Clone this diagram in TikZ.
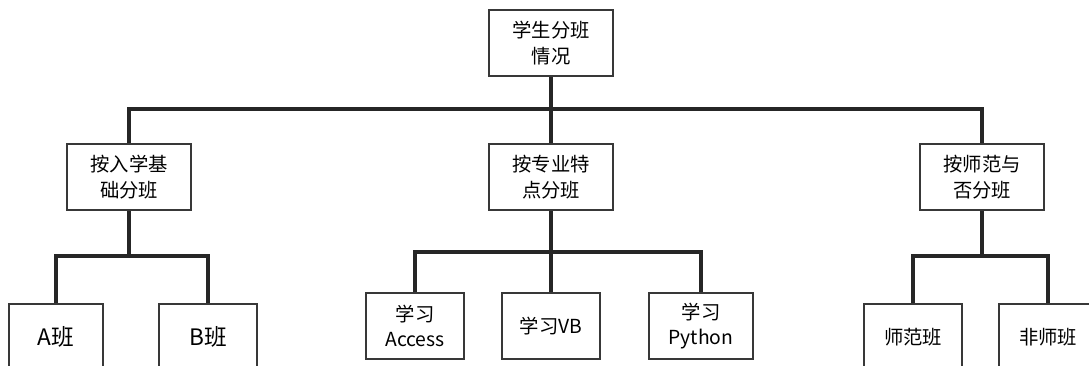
\documentclass[tikz,border=0pt]{standalone}
\usepackage{fontspec}
\setmainfont{Noto Sans CJK SC}

\begin{document}
\begin{tikzpicture}[x=0.75pt, y=-0.75pt,
    box/.style={draw=black!78, line width=1.5pt, fill=white, rectangle, inner sep=0pt,
        align=center, minimum width=93pt, minimum height=49.5pt,
        font=\fontsize{14.5}{19}\selectfont},
    leaf/.style={box, minimum width=73pt, minimum height=49pt},
    bigleaf/.style={leaf, font=\fontsize{17}{20}\selectfont},
    link/.style={draw=black!85, line width=2.6pt}]
    \useasboundingbox (0,0) rectangle (1089,365);
    % Root
    \node[box] (root) at (551,43) {学生分班\\情况};
    % Second level
    \node[box] (basic) at (129,177) {按入学基\\础分班};
    \node[box] (major) at (551,177) {按专业特\\点分班};
    \node[box] (normal) at (982,177) {按师范与\\否分班};
    % Leaves
    \node[bigleaf, minimum width=70.5pt] (classA) at (56,337) {A班};
    \node[bigleaf] (classB) at (208,337) {B班};
    \node[leaf, minimum width=74pt] (access) at (415,326) {学习\\Access};
    \node[leaf] (vb) at (551,326) {学习VB};
    \node[leaf, minimum width=78pt] (python) at (701,326) {学习\\Python};
    \node[leaf] (teach) at (913,337) {师范班};
    \node[leaf] (nonteach) at (1048,337) {非师班};
    % Buses
    \coordinate (topbus) at (551,109);
    \coordinate (busbasic) at (129,256);
    \coordinate (busmajor) at (551,252);
    \coordinate (busnormal) at (982,256);
    % Connectors
    \draw[link] (root.south) -- (topbus);
    \draw[link] (basic.north) |- (topbus) -| (normal.north);
    \draw[link] (topbus) -- (major.north);
    \draw[link] (basic.south) -- (busbasic);
    \draw[link] (classA.north) |- (busbasic) -| (classB.north);
    \draw[link] (major.south) -- (busmajor);
    \draw[link] (access.north) |- (busmajor) -| (python.north);
    \draw[link] (busmajor) -- (vb.north);
    \draw[link] (normal.south) -- (busnormal);
    \draw[link] (teach.north) |- (busnormal) -| (nonteach.north);
\end{tikzpicture}
\end{document}
